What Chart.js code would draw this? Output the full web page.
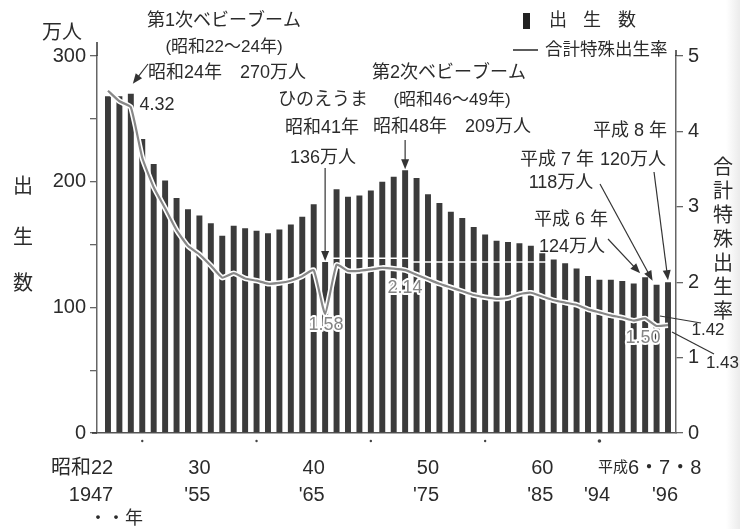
<!DOCTYPE html>
<html lang="ja">
<head>
<meta charset="utf-8">
<title>出生数と合計特殊出生率</title>
<script src="https://cdn.jsdelivr.net/npm/chart.js@4.4.1/dist/chart.umd.min.js"></script>
<style>
  html, body { margin: 0; padding: 0; }
  body {
    width: 740px; height: 529px; overflow: hidden;
    background: linear-gradient(to right, #fff 0px, #fff 726px, #ebebeb 740px);
  }
  canvas { display: block; }
</style>
</head>
<body>
<canvas id="grafica" width="740" height="529"></canvas>
<script>
const years = [
  1947, 1948, 1949, 1950, 1951, 1952, 1953, 1954, 1955, 1956,
  1957, 1958, 1959, 1960, 1961, 1962, 1963, 1964, 1965, 1966,
  1967, 1968, 1969, 1970, 1971, 1972, 1973, 1974, 1975, 1976,
  1977, 1978, 1979, 1980, 1981, 1982, 1983, 1984, 1985, 1986,
  1987, 1988, 1989, 1990, 1991, 1992, 1993, 1994, 1995, 1996
];
// 出生数 (万人)
const births = [
  268, 268, 270, 234, 214, 201, 187, 178, 173, 167,
  157, 165, 163, 161, 159, 162, 166, 172, 182, 136,
  194, 188, 189, 193, 200, 204, 209, 203, 190, 183,
  176, 171, 164, 158, 153, 152, 151, 149, 143, 138,
  135, 131, 125, 122, 122, 121, 119, 124, 118, 120
];
// 合計特殊出生率
const fertility = [
  4.54, 4.40, 4.32, 3.65, 3.26, 2.98, 2.69, 2.48, 2.37, 2.22,
  2.06, 2.12, 2.05, 2.02, 1.98, 1.99, 2.02, 2.08, 2.16, 1.58,
  2.23, 2.15, 2.15, 2.17, 2.19, 2.18, 2.16, 2.10, 2.04, 1.98,
  1.93, 1.88, 1.83, 1.80, 1.78, 1.79, 1.84, 1.86, 1.81, 1.76,
  1.73, 1.70, 1.64, 1.60, 1.56, 1.53, 1.49, 1.52, 1.42, 1.43
];
const birthTickStep = 50;
const rateTickStep = 1;
const xLabelYears = [1955, 1965, 1975, 1985];
const xTopLabels = ["30", "40", "50", "60"];
const xBottomLabels = ["'55", "'65", "'75", "'85"];
const decadeYears = [1950, 1960, 1970, 1980, 1990];

const FONT = "'Liberation Sans', 'Noto Sans CJK JP'";
const INK = "#2b2b2b";

function texto(ctx, s, x, y, size, align) {
  ctx.font = size + "px " + FONT;
  ctx.textAlign = align || "center";
  ctx.textBaseline = "middle";
  ctx.fillStyle = INK;
  ctx.fillText(s, x, y);
}

function textoHalo(ctx, s, x, y, size) {
  ctx.font = size + "px " + FONT;
  ctx.textAlign = "center";
  ctx.textBaseline = "middle";
  ctx.lineJoin = "round";
  ctx.strokeStyle = "#fff";
  ctx.lineWidth = 4;
  ctx.strokeText(s, x, y);
  ctx.fillStyle = "#858585";
  ctx.fillText(s, x, y);
}

function vertical(ctx, s, x, y0, paso, size) {
  [...s].forEach((c, i) => texto(ctx, c, x, y0 + i * paso, size));
}

function linea(ctx, x1, y1, x2, y2, w) {
  ctx.strokeStyle = "#333";
  ctx.lineWidth = w || 1.2;
  ctx.beginPath();
  ctx.moveTo(x1, y1);
  ctx.lineTo(x2, y2);
  ctx.stroke();
}

function flecha(ctx, x1, y1, x2, y2) {
  const a = Math.atan2(y2 - y1, x2 - x1);
  const c = Math.cos(a), s = Math.sin(a);
  linea(ctx, x1, y1, x2 - 8 * c, y2 - 8 * s);
  ctx.fillStyle = "#333";
  ctx.beginPath();
  ctx.moveTo(x2, y2);
  ctx.lineTo(x2 - 10 * c + 4 * s, y2 - 10 * s - 4 * c);
  ctx.lineTo(x2 - 10 * c - 4 * s, y2 - 10 * s + 4 * c);
  ctx.closePath();
  ctx.fill();
}

const notas = {
  id: "notas",
  afterDatasetsDraw(chart) {
    const { ctx, chartArea, scales } = chart;
    const x = scales.x, yL = scales.y;
    const px = yr => x.getPixelForValue(yr);
    const top = i => yL.getPixelForValue(births[i]);
    ctx.save();

    // white seam across the bars
    ctx.strokeStyle = "#fff";
    ctx.lineWidth = 1.5;
    ctx.beginPath();
    ctx.moveTo(px(1966.6), yL.getPixelForValue(139));
    ctx.lineTo(px(1973.5), yL.getPixelForValue(139));
    ctx.moveTo(px(1973.5), yL.getPixelForValue(136));
    ctx.lineTo(px(1985.5), yL.getPixelForValue(136));
    ctx.stroke();

    // axis extensions
    linea(ctx, chartArea.left, chartArea.top - 14, chartArea.left, chartArea.top, 1.5);
    linea(ctx, chartArea.right, chartArea.top - 6, chartArea.right, chartArea.top, 1.5);
    linea(ctx, chartArea.left - 5, chartArea.bottom, chartArea.left, chartArea.bottom, 1.5);

    // units and axis titles
    texto(ctx, "万人", 62, 33, 20);
    texto(ctx, "出", 23, 187, 20);
    texto(ctx, "生", 23, 238, 20);
    texto(ctx, "数", 23, 284, 20);
    vertical(ctx, "合計特殊出生率", 723, 168, 24, 20);

    // legend
    ctx.fillStyle = "#222";
    ctx.fillRect(523, 13, 7, 16);
    texto(ctx, "出", 558, 21, 18);
    texto(ctx, "生", 592, 21, 18);
    texto(ctx, "数", 627, 21, 18);
    linea(ctx, 513, 50, 538, 50, 1.6);
    texto(ctx, "合計特殊出生率", 545, 50, 17.5, "left");

    // first baby boom
    const i49 = years.indexOf(1949);
    texto(ctx, "第1次ベビーブーム", 224, 21, 18);
    texto(ctx, "(昭和22～24年)", 224, 47, 17);
    texto(ctx, "昭和24年　270万人", 148, 73, 18, "left");
    flecha(ctx, 148, 64, px(1949) + 2, top(i49) - 10);
    texto(ctx, "4.32", 157, 105, 18);

    // hinoeuma
    const i66 = years.indexOf(1966);
    texto(ctx, "ひのえうま", 323, 100, 18);
    texto(ctx, "昭和41年", 322, 128, 18);
    texto(ctx, "136万人", 323, 158, 18);
    flecha(ctx, px(1966), 168, px(1966), top(i66) - 1);
    textoHalo(ctx, "1.58", 326, 325, 18);

    // second baby boom
    const i73 = years.indexOf(1973);
    texto(ctx, "第2次ベビーブーム", 449, 73, 18);
    texto(ctx, "(昭和46～49年)", 452, 100, 17);
    texto(ctx, "昭和48年　209万人", 373, 127, 18, "left");
    flecha(ctx, px(1973), 140, px(1973), top(i73) - 1);
    textoHalo(ctx, "2.14", 405, 288, 18);

    // Heisei 6, 7, 8
    const i94 = years.indexOf(1994), i95 = years.indexOf(1995), i96 = years.indexOf(1996);
    texto(ctx, "平成 8 年", 630, 131, 18);
    texto(ctx, "120万人", 633, 160, 18);
    texto(ctx, "平成 7 年", 557, 160, 18);
    texto(ctx, "118万人", 561, 183, 18);
    texto(ctx, "平成 6 年", 571, 220, 18);
    texto(ctx, "124万人", 572, 247, 18);
    flecha(ctx, 600, 184, px(1995) - 4, top(i95) - 4);
    flecha(ctx, 654, 172, px(1996), top(i96) - 2);
    flecha(ctx, 608, 239, px(1994) - 5, top(i94) - 4);
    textoHalo(ctx, "1.50", 643, 338, 18);

    linea(ctx, 660, 316, 701, 323);
    texto(ctx, "1.42", 708, 330, 17);
    linea(ctx, 672, 332, 714, 354);
    texto(ctx, "1.43", 739, 363, 17, "right");

    // x axis labels
    texto(ctx, "昭和22", 82, 468, 20);
    texto(ctx, "1947", 91, 495, 20);
    xLabelYears.forEach((yr, i) => {
      texto(ctx, xTopLabels[i], px(yr), 468, 20);
      texto(ctx, xBottomLabels[i], px(yr) - 2, 495, 20);
    });
    texto(ctx, "平成", 598, 468, 15, "left");
    texto(ctx, "6・7・8", 628, 468, 20, "left");
    texto(ctx, "'94", 597, 495, 20);
    texto(ctx, "'96", 665, 495, 20);
    texto(ctx, "・・年", 116, 519, 18);

    ctx.fillStyle = "#444";
    decadeYears.forEach(yr => {
      ctx.beginPath();
      ctx.arc(px(yr), 441, yr === 1990 ? 1.8 : 1.2, 0, Math.PI * 2);
      ctx.fill();
    });

    ctx.restore();
  }
};

const puntos = arr => years.map((yr, i) => ({ x: yr, y: arr[i] }));

new Chart(document.getElementById("grafica").getContext("2d"), {
  type: "bar",
  data: {
    datasets: [
      {
        type: "bar",
        label: "出生数",
        data: puntos(births),
        backgroundColor: "#3b3b3b",
        barPercentage: 0.52,
        categoryPercentage: 1,
        yAxisID: "y",
        order: 3
      },
      {
        type: "line",
        label: "halo",
        data: puntos(fertility),
        borderColor: "#ffffff",
        borderWidth: 5.5,
        pointRadius: 0,
        tension: 0.15,
        yAxisID: "y2",
        order: 2
      },
      {
        type: "line",
        label: "合計特殊出生率",
        data: puntos(fertility),
        borderColor: "#888888",
        borderWidth: 2.2,
        pointRadius: 0,
        tension: 0.15,
        yAxisID: "y2",
        order: 1
      }
    ]
  },
  options: {
    responsive: false,
    animation: false,
    layout: { padding: { top: 56, left: 0, right: 0, bottom: 0 } },
    plugins: { legend: { display: false }, tooltip: { enabled: false } },
    scales: {
      x: {
        type: "linear",
        min: 1946.04,
        max: 1996.7,
        offset: false,
        grid: { display: false, offset: false },
        border: { display: true, color: "#555", width: 1.5 },
        ticks: { display: false },
        afterFit: s => { s.height = 96; }
      },
      y: {
        position: "left",
        min: 0,
        max: 300,
        ticks: {
          stepSize: birthTickStep,
          callback: v => (v % 100 === 0 ? v : ""),
          color: INK,
          font: { size: 20, family: FONT },
          padding: 4
        },
        grid: { drawOnChartArea: false, drawTicks: true, tickLength: 7, color: "#666", lineWidth: 1.3 },
        border: { display: true, color: "#666", width: 1.5 },
        afterFit: s => { s.width = 97; }
      },
      y2: {
        position: "right",
        min: 0,
        max: 5,
        ticks: {
          stepSize: rateTickStep,
          color: INK,
          font: { size: 20, family: FONT },
          padding: 5
        },
        grid: { drawOnChartArea: false, drawTicks: true, tickLength: 7, color: "#666", lineWidth: 1.3 },
        border: { display: true, color: "#666", width: 1.5 },
        afterFit: s => { s.width = 64; }
      }
    }
  },
  plugins: [notas]
});
</script>
</body>
</html>
